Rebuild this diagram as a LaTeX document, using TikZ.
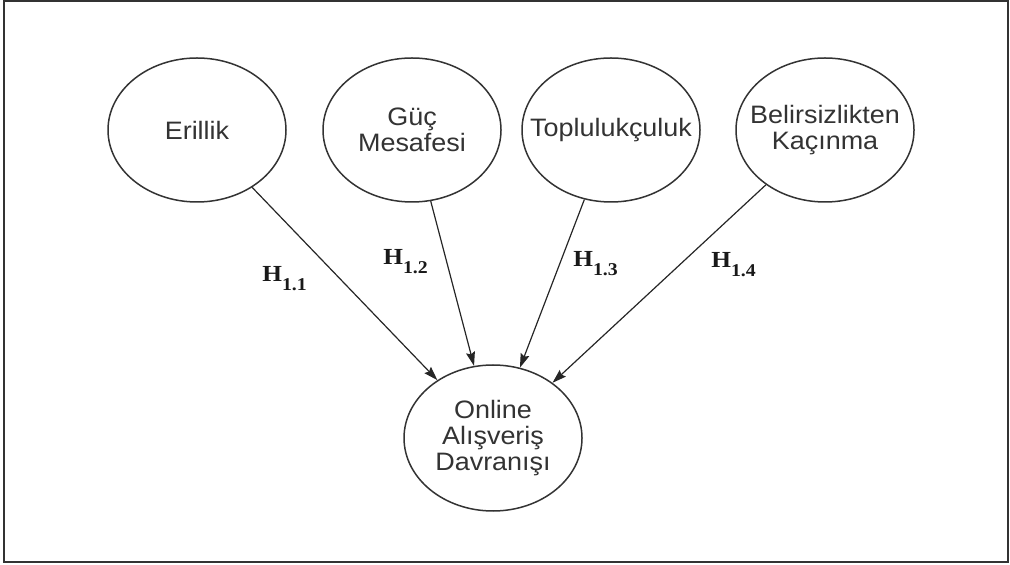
\documentclass[tikz,border=0pt]{standalone}
\usepackage{fontspec}
\newfontfamily\nodefont{Liberation Sans}[FakeStretch=1.07]
\newfontfamily\hypfont{Liberation Serif}[FakeStretch=1.1]
\usetikzlibrary{arrows.meta,shapes.geometric}

\begin{document}
\begin{tikzpicture}[
    x=0.5pt, y=-0.5pt,
    >={Stealth[length=7pt, width=4.5pt, inset=1pt]},
    factor/.style={ellipse, draw=black!80, line width=0.75pt,
        inner xsep=-14pt, inner ysep=0pt,
        minimum width=89pt, minimum height=72pt, align=center,
        font=\nodefont\fontsize{12.6}{12.9}\selectfont, text=black!80},
    hyp arrow/.style={->, line width=0.6pt, draw=black!85},
    hyp label/.style={anchor=base west, inner sep=0pt, text=black!90,
        font=\hypfont\fontsize{11.5}{11.5}\selectfont\bfseries},
]

% Frame
\useasboundingbox (0,0) rectangle (1010,565);
\draw[line width=0.9pt, black!80] (4,1) rectangle (1008,562);

% Cultural dimensions
\node[factor] (eril) at (197,130) {Erillik};
\node[factor] (guc) at (412,130) {Güç\\Mesafesi};
\node[factor] (toplu) at (611,130) {Toplulukçuluk};
\node[factor] (belir) at (825,130) {Belirsizlikten\\Kaçınma};

% Outcome
\node[factor, minimum height=73pt] (online) at (493,438) {Online\\Alışveriş\\Davranışı};

% Hypothesis arrows
\draw[hyp arrow] (eril) -- (online);
\draw[hyp arrow] (guc) -- (online);
\draw[hyp arrow] (toplu) -- (online);
\draw[hyp arrow] (belir) -- (online);

% Hypothesis labels
\node[hyp label] (h11) at (262,282) {H\raisebox{-4.5pt}{\fontsize{9}{9}\selectfont 1.1}};
\node[hyp label] (h12) at (383,265) {H\raisebox{-4.5pt}{\fontsize{9}{9}\selectfont 1.2}};
\node[hyp label] (h13) at (573,267) {H\raisebox{-4.5pt}{\fontsize{9}{9}\selectfont 1.3}};
\node[hyp label] (h14) at (711,268) {H\raisebox{-4.5pt}{\fontsize{9}{9}\selectfont 1.4}};

\end{tikzpicture}
\end{document}
